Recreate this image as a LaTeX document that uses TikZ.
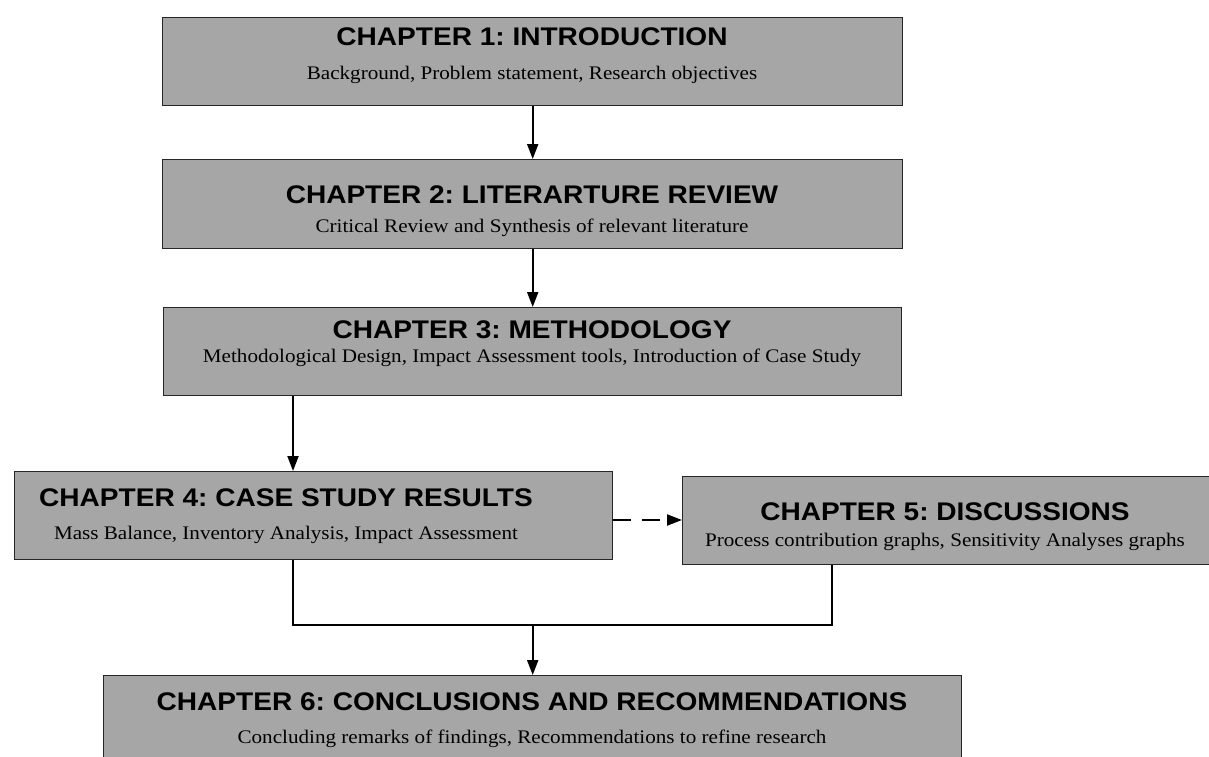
\documentclass[tikz,border=0pt]{standalone}
\usepackage{fontspec}
\setmainfont[FakeStretch=1.1]{Liberation Serif}
\setsansfont[FakeStretch=1.1]{Liberation Sans}
\usetikzlibrary{arrows.meta}
\definecolor{boxgray}{HTML}{A6A6A6}
\begin{document}
\frenchspacing
\begin{tikzpicture}[x=1pt,y=-1pt,
  chapbox/.style={draw=black!85, line width=1.4pt, fill=boxgray, inner sep=0pt, anchor=north west},
  chaptitle/.style={font=\sffamily\bfseries\fontsize{25.5}{28}\selectfont, inner sep=0pt},
  chapsub/.style={font=\fontsize{19.2}{21}\selectfont, inner sep=0pt},
  flow/.style={line width=2pt, -{Triangle[length=15pt,width=11pt]}},
  link/.style={line width=2pt, line join=miter},
]
\clip (0,0) rectangle (1209,756);
\fill[white] (0,0) rectangle (1209,756);

% chapter boxes
\node[chapbox, minimum width=740pt, minimum height=88pt] (c1) at (162,17) {};
\node[chapbox, minimum width=740pt, minimum height=89pt] (c2) at (162,159) {};
\node[chapbox, minimum width=738pt, minimum height=88pt] (c3) at (163,307) {};
\node[chapbox, minimum width=598pt, minimum height=88pt] (c4) at (14,471) {};
\node[chapbox, minimum width=528pt, minimum height=88pt] (c5) at (682,476) {};
\node[chapbox, minimum width=858pt, minimum height=92pt] (c6) at (103,675) {};

% titles and descriptions
\node[chaptitle] (t1) at (532,37) {CHAPTER 1: INTRODUCTION};
\node[chapsub]   (s1) at (532,75) {Background, Problem statement, Research objectives};
\node[chaptitle] (t2) at (532,195) {CHAPTER 2: LITERARTURE REVIEW};
\node[chapsub]   (s2) at (532,228) {Critical Review and Synthesis of relevant literature};
\node[chaptitle] (t3) at (532,330) {CHAPTER 3: METHODOLOGY};
\node[chapsub]   (s3) at (532,358) {Methodological Design, Impact Assessment tools, Introduction of Case Study};
\node[chaptitle] (t4) at (286,498) {CHAPTER 4: CASE STUDY RESULTS};
\node[chapsub]   (s4) at (286,535) {Mass Balance, Inventory Analysis, Impact Assessment};
\node[chaptitle] (t5) at (945,512) {CHAPTER 5: DISCUSSIONS};
\node[chapsub]   (s5) at (945,542) {Process contribution graphs, Sensitivity Analyses graphs};
\node[chaptitle] (t6) at (532,702) {CHAPTER 6: CONCLUSIONS AND RECOMMENDATIONS};
\node[chapsub]   (s6) at (532,739) {Concluding remarks of findings, Recommendations to refine research};

% connector routing points
\coordinate (a3) at (293,0);
\coordinate (dy) at (0,520);
\coordinate (jl) at (293,625);
\coordinate (jr) at (832,625);

% connectors
\draw[flow] (c1.south) -- (c2.north);
\draw[flow] (c2.south) -- (c3.north);
\draw[flow] (c3.south -| a3) -- (c4.north -| a3);
\draw[flow, dash pattern=on 18pt off 11pt] (c4.east |- dy) -- (c5.west |- dy);
\draw[link] (c4.south -| jl) -- (jl) -- (jr) -- (c5.south -| jr);
\draw[flow] (c6.north |- jl) -- (c6.north);
\end{tikzpicture}
\end{document}
